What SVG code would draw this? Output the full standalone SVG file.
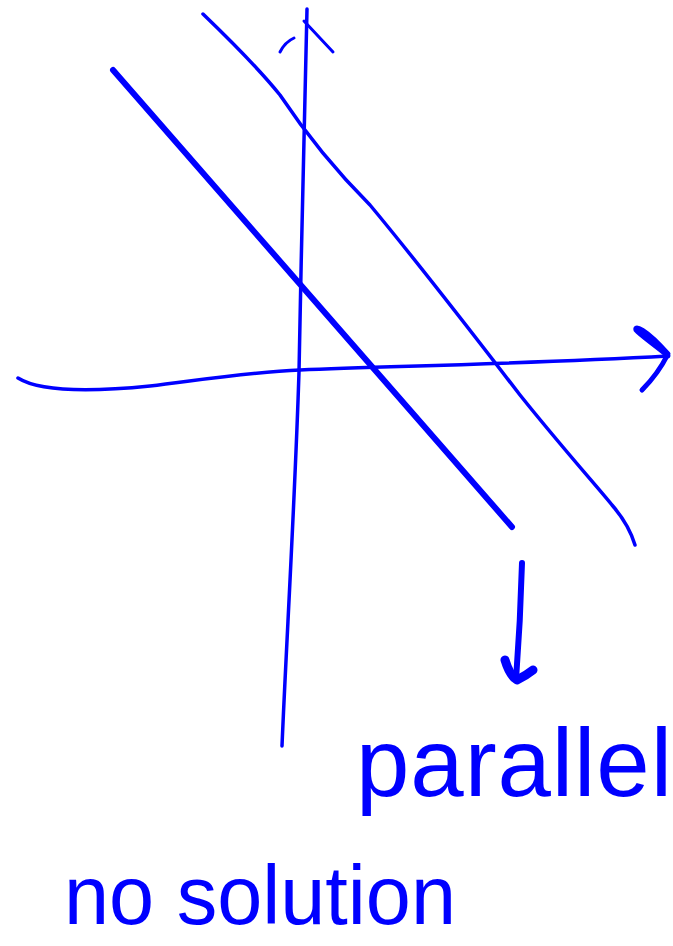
<svg xmlns="http://www.w3.org/2000/svg" width="673" height="946" viewBox="0 0 673 946">
<style>
.ink{fill:none;stroke:#0000ff;stroke-linecap:round;stroke-linejoin:round}
.txt{fill:#0000ff;font-family:"Liberation Sans",Arial,sans-serif}
</style>
<rect width="673" height="946" fill="#ffffff"/>
<g id="y-axis">
<path class="ink" stroke-width="3.5" d="M307,9 C305,120 301,250 299,372 C295,500 286,650 282,746"/>
<path class="ink" stroke-width="3" d="M304,21 L333,52"/>
<path class="ink" stroke-width="3" d="M280,52 Q285,42 294,38"/>
</g>
<g id="x-axis">
<path class="ink" stroke-width="3.5" d="M18,378 C40,392 90,392 150,386 C200,380 250,372 300,370 C400,366 520,364 668,356"/>
<path class="ink" stroke-width="5" d="M668,356 C655,345 640,335 636,330 C634,325 645,328 668,354 C660,370 650,382 642,390"/>
</g>
<g id="line-thick">
<path class="ink" stroke-width="6" d="M113,70 L512,527"/>
</g>
<g id="line-thin">
<path class="ink" stroke-width="3.5" d="M203,14 C230,40 260,70 280,95 C300,125 330,165 370,205 C420,265 470,330 520,395 C560,445 600,490 612,505 C625,520 632,535 635,545"/>
</g>
<g id="arrow-down">
<path class="ink" stroke-width="6" d="M522,563 C521,600 519,640 516,680"/>
<path class="ink" stroke-width="9" d="M505,660 C508,670 512,677 517,680 C523,677 528,674 533,670"/>
</g>
<g id="labels">
<text class="txt" x="356" y="796" font-size="96" textLength="316" lengthAdjust="spacing">parallel</text>
<text class="txt" x="64" y="924" font-size="84" textLength="392" lengthAdjust="spacingAndGlyphs">no solution</text>
</g>
</svg>
